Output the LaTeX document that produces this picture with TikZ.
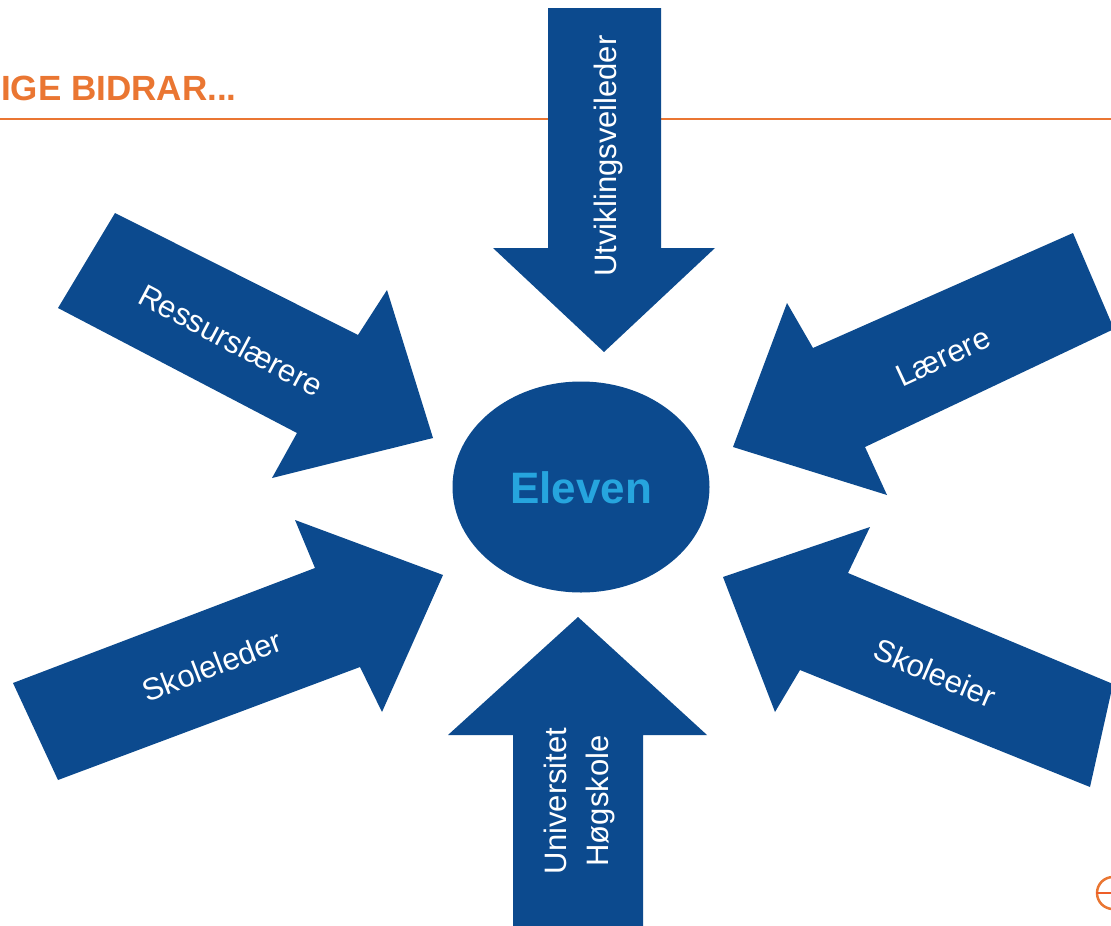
\documentclass[tikz,border=0pt]{standalone}
\usepackage{fontspec}
\setmainfont{Liberation Sans}
\usetikzlibrary{shapes.geometric}
\definecolor{arrowblue}{RGB}{12,74,142}
\definecolor{titleorange}{RGB}{234,118,50}
\definecolor{elevencyan}{RGB}{38,165,222}
\tikzset{
  bigarrow/.style={fill=arrowblue, draw=none},
  arrowlabel/.style={text=white, font=\fontsize{31}{38}\selectfont, inner sep=0pt, align=center},
}
\begin{document}
\begin{tikzpicture}[x=1pt,y=-1pt]
\useasboundingbox (0,0) rectangle (1111,926);
\fill[white] (0,0) rectangle (1111,926);
% title and rule
\coordinate (ruleL) at (0,119);
\coordinate (ruleR) at (1111,119);
\draw[titleorange, line width=2pt] (ruleL) -- (ruleR);
\node[anchor=base west, inner sep=0pt, text=titleorange, font=\bfseries\fontsize{35}{42}\selectfont] (title) at (1,100) {IGE BIDRAR...};
% corner logo
\node[circle, draw=titleorange, line width=2.5pt, minimum size=32pt, inner sep=0pt] (logo) at (1113,893) {};
\draw[titleorange!80!red, line width=2.5pt] (logo.west) -- (logo.east);
% arrows
\fill[bigarrow] (548,8) -- (661,8) -- (661,248) -- (715,248) -- (604,352) -- (493,248) -- (548,248) -- cycle;
\fill[bigarrow] (578,617) -- (707,735) -- (643,735) -- (643,930) -- (513,930) -- (513,735) -- (448,735) -- cycle;
\fill[bigarrow] (115,213) -- (358,335) -- (387,290) -- (433,438) -- (272,478) -- (297,433) -- (58,308) -- cycle;
\fill[bigarrow] (13,683) -- (315,568) -- (295,520) -- (443,575) -- (382,712) -- (360,667) -- (58,780) -- cycle;
\fill[bigarrow] (1073,233) -- (813,348) -- (787,303) -- (733,447) -- (887,495) -- (865,447) -- (1114,329) -- cycle;
\fill[bigarrow] (870,527) -- (848,573) -- (1113,684) -- (1090,787) -- (800,670) -- (775,712) -- (723,577) -- cycle;
% centre
\node[ellipse, fill=arrowblue, minimum width=257pt, minimum height=211pt, inner sep=0pt] (eleven) at (581,487) {};
\node[text=elevencyan, font=\bfseries\fontsize{44}{50}\selectfont, inner sep=0pt] (elevenlabel) at (581,488) {Eleven};
% labels
\node[arrowlabel, rotate=90] (utv) at (608,156) {Utviklingsveileder};
\node[arrowlabel, rotate=90, font=\fontsize{31}{42}\selectfont] (uni) at (579,801) {Universitet\\Høgskole};
\node[arrowlabel, rotate=-28] (ress) at (231,340) {Ressurslærere};
\node[arrowlabel, rotate=21] (skl) at (212,666) {Skoleleder};
\node[arrowlabel, rotate=25] (laer) at (943,357) {Lærere};
\node[arrowlabel, rotate=-23] (ske) at (935,673) {Skoleeier};
\end{tikzpicture}
\end{document}
